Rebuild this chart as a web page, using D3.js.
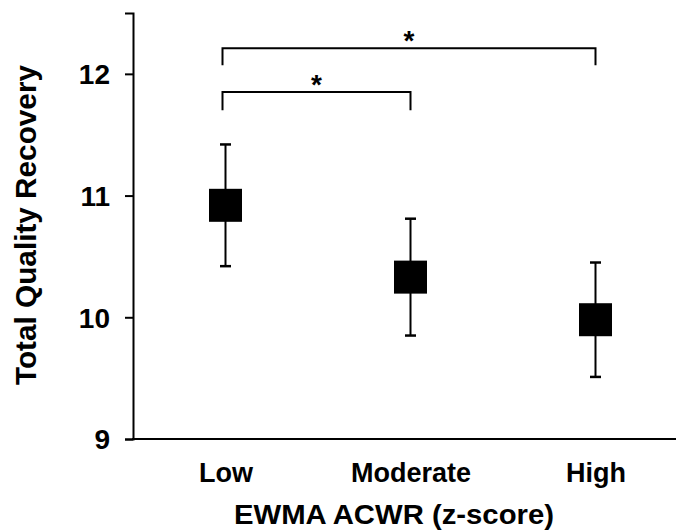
<!DOCTYPE html>
<html>
<head>
<meta charset="utf-8">
<script src="https://cdn.jsdelivr.net/npm/d3@7"></script>
<style>
  body { margin: 0; background: #fff; }
  text { font-family: "Liberation Sans", Arial, sans-serif; font-weight: bold; fill: #000; }
</style>
</head>
<body>
<div id="wrapper"></div>
<script>
// data
const categories = ["Low", "Moderate", "High"]
const means = [10.92, 10.33, 9.98]
const errors = [0.50, 0.48, 0.47]
const yTicks = [9, 10, 11, 12]
// significance brackets: [from, to, height, leg bottom]
const brackets = [
  ["Low", "High", 12.21, 12.07],
  ["Low", "Moderate", 11.85, 11.70],
]

const dimensions = {
  width: 676,
  height: 531,
  margin: { top: 13, right: 0, bottom: 92, left: 133 },
}
dimensions.boundedHeight = dimensions.height - dimensions.margin.top - dimensions.margin.bottom

const wrapper = d3.select("#wrapper")
  .append("svg")
  .attr("width", dimensions.width)
  .attr("height", dimensions.height)

const x0 = dimensions.margin.left
const yBase = dimensions.margin.top + dimensions.boundedHeight

const xScaler = d3.scalePoint()
  .domain(categories)
  .range([x0, 688])
  .padding(0.5)

const yScaler = d3.scaleLinear()
  .domain([9, 12.5])
  .range([yBase, dimensions.margin.top])

// y axis
const yAxis = wrapper.append("g")
  .attr("transform", `translate(${x0}, 0)`)
  .call(d3.axisLeft(yScaler).tickValues(yTicks).tickFormat(d3.format("d")).tickSizeOuter(0).tickSize(8).tickPadding(15))
yAxis.select(".domain").attr("stroke", "#000").attr("stroke-width", 2)
yAxis.selectAll(".tick line").attr("stroke", "#000").attr("stroke-width", 2)
yAxis.selectAll(".tick text").style("font-size", "28px").attr("dy", "0.35em")

// x axis
const xAxis = wrapper.append("g")
  .attr("transform", `translate(0, ${yBase})`)
  .call(d3.axisBottom(xScaler).tickSize(0))
xAxis.select(".domain").remove()
xAxis.append("line")
  .attr("x1", x0 - 1).attr("x2", dimensions.width)
  .attr("stroke", "#000").attr("stroke-width", 2)
xAxis.selectAll(".tick text")
  .attr("y", 43).attr("dy", 0)
  .style("font-size", "27px")

// axis titles
wrapper.append("text")
  .attr("x", 394).attr("y", 524)
  .attr("text-anchor", "middle")
  .style("font-size", "28px")
  .attr("textLength", 320)
  .attr("lengthAdjust", "spacingAndGlyphs")
  .text("EWMA ACWR (z-score)")

wrapper.append("text")
  .attr("transform", "translate(36, 225) rotate(-90)")
  .attr("text-anchor", "middle")
  .style("font-size", "29px")
  .attr("textLength", 320)
  .attr("lengthAdjust", "spacingAndGlyphs")
  .text("Total Quality Recovery")

// error bars + square markers
const points = categories.map((c, i) => ({ cat: c, mean: means[i], err: errors[i] }))
const pts = wrapper.append("g").selectAll("g")
  .data(points)
  .enter()
  .append("g")

const capW = 11
pts.append("line")
  .attr("x1", d => xScaler(d.cat)).attr("x2", d => xScaler(d.cat))
  .attr("y1", d => yScaler(d.mean + d.err)).attr("y2", d => yScaler(d.mean - d.err))
  .attr("stroke", "#000").attr("stroke-width", 2)
pts.selectAll(".cap")
  .data(d => [d.mean + d.err, d.mean - d.err].map(v => ({ cat: d.cat, v })))
  .enter()
  .append("line")
  .attr("x1", d => xScaler(d.cat) - capW / 2).attr("x2", d => xScaler(d.cat) + capW / 2)
  .attr("y1", d => yScaler(d.v)).attr("y2", d => yScaler(d.v))
  .attr("stroke", "#000").attr("stroke-width", 2.5)

const sq = 33
pts.append("rect")
  .attr("x", d => xScaler(d.cat) - sq / 2)
  .attr("y", d => yScaler(d.mean) - sq / 2)
  .attr("width", sq).attr("height", sq)
  .attr("fill", "#000")

// significance brackets
const br = wrapper.append("g").selectAll("g")
  .data(brackets)
  .enter()
  .append("g")
br.append("path")
  .attr("d", d => {
    const xa = xScaler(d[0]) - 3, xb = xScaler(d[1])
    return `M${xa},${yScaler(d[3])}V${yScaler(d[2])}H${xb}V${yScaler(d[3])}`
  })
  .attr("fill", "none").attr("stroke", "#000").attr("stroke-width", 2)
br.append("text")
  .attr("x", d => (xScaler(d[0]) - 3 + xScaler(d[1])) / 2)
  .attr("y", d => yScaler(d[2]) + 2)
  .attr("text-anchor", "middle")
  .style("font-size", "28px")
  .text("*")
</script>
</body>
</html>
